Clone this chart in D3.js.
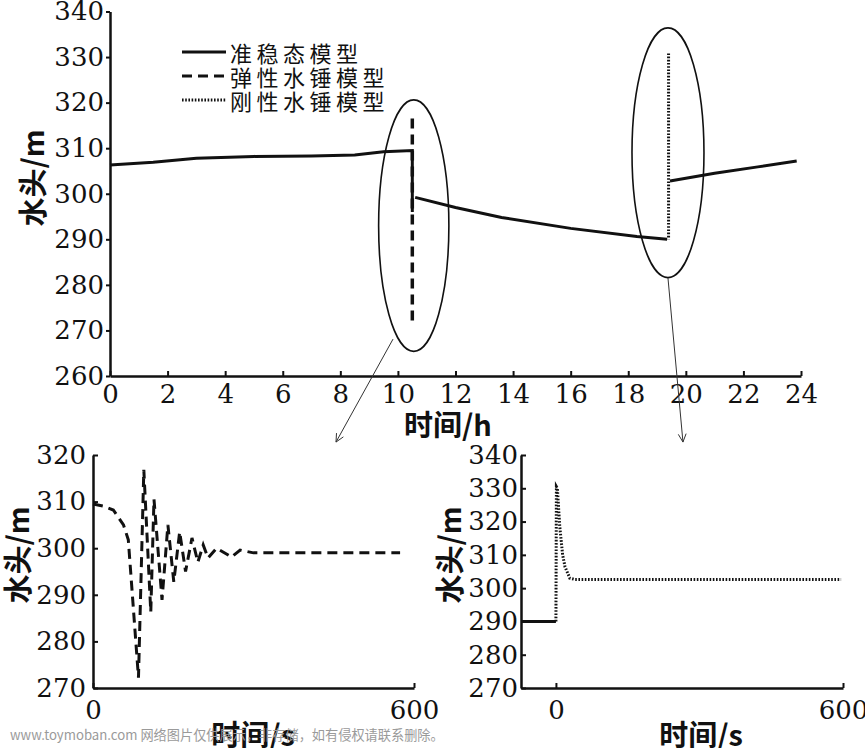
<!DOCTYPE html>
<html>
<head>
<meta charset="utf-8">
<script src="https://cdn.jsdelivr.net/npm/d3@7"></script>
<style>
  body { margin: 0; background: #fff; }
  svg { display: block; }
  .cn { font-family: "Noto Sans CJK SC", sans-serif; fill: #111; }
</style>
</head>
<body>
<svg id="chart" width="865" height="748"></svg>
<script>
// ---- data (top: 24 h overview) ----
const hourTicks = [0, 2, 4, 6, 8, 10, 12, 14, 16, 18, 20, 22, 24];
const headTicksTop = [260, 270, 280, 290, 300, 310, 320, 330, 340];
const quasiSteady1 = [[0, 306.3], [1.5, 306.9], [3, 307.8], [5, 308.2], [7, 308.3], [8.5, 308.5], [9.5, 309.2], [10.5, 309.5], [10.5, 296]];
const quasiSteady2 = [[10.6, 299.2], [12, 297], [13.6, 294.8], [16, 292.4], [18.3, 290.6], [19.35, 290]];
const quasiSteady3 = [[19.45, 302.8], [21, 304.5], [22.5, 305.9], [23.85, 307.2]];
const elasticTop = [[10.5, 316.5], [10.5, 271]];
const rigidTop = [[19.4, 330.8], [19.4, 290]];
// ellipses: [centre h, centre m, radius h, radius m]
const ellipses = [[10.55, 293, 1.22, 27.6], [19.38, 309, 1.25, 27.4]];
// arrows: [from h, from m, to h, to m]
const arrows = [[9.83, 268.1, 7.85, 245.5], [19.38, 281.5, 19.9, 245.5]];
const legendNames = ["准稳态模型", "弹性水锤模型", "刚性水锤模型"];

// ---- data (bottom-left: elastic model, seconds) ----
const secTicksL = [0, 600];
const headTicksL = [270, 280, 290, 300, 310, 320];
const elasticDetail = [[0, 309.5], [20, 309], [38, 308.2], [57, 305], [66, 301.8], [85, 272.2], [95, 316.8],
  [108, 286.3], [114, 310.5], [129, 288.9], [140, 305], [151, 292.8], [162, 303.5], [173, 295],
  [185, 302.2], [196, 297], [206, 300.7], [215, 297.9], [231, 300], [259, 298.1], [275, 299.6],
  [300, 299], [574, 299]];

// ---- data (bottom-right: rigid model, seconds) ----
const secTicksR = [0, 600];
const headTicksR = [270, 280, 290, 300, 310, 320, 330, 340];
const steadyBefore = [[-73, 290], [0, 290]];
const rigidDetail = [[0, 290], [1, 330.5], [3, 330], [8, 318.5], [14, 310], [19, 306.4], [29, 303], [40, 302.6], [596, 302.6]];

const svg = d3.select("#chart");
const ink = "#111";

function styleAxis(g) {
    g.attr("font-family", null).attr("font-size", null);
    g.select(".domain").attr("stroke", ink).attr("stroke-width", 2.5);
    g.selectAll(".tick line").attr("stroke", ink).attr("stroke-width", 2);
    g.selectAll(".tick text")
        .style("font-family", "'DejaVu Serif'")
        .style("font-size", "26px")
        .attr("fill", ink);
}

function drawLine(data, x, y, dash, w) {
    svg.append("path")
        .datum(data)
        .attr("fill", "none")
        .attr("stroke", ink)
        .attr("stroke-width", w || 3)
        .attr("stroke-dasharray", dash || null)
        .attr("d", d3.line().x(d => x(d[0])).y(d => y(d[1])));
}

const DASH = "10,6";
const DOT = "1.6,1.6";

// ===== top chart =====
const xTop = d3.scaleLinear().domain([0, 24]).range([110, 801]);
const yTop = d3.scaleLinear().domain([260, 340]).range([376, 11.5]);

svg.append("g").attr("transform", "translate(0,376)")
    .call(d3.axisBottom(xTop).tickValues(hourTicks).tickSize(-5).tickSizeOuter(0).tickPadding(9))
    .call(styleAxis);
svg.append("g").attr("transform", "translate(110,0)")
    .call(d3.axisLeft(yTop).tickValues(headTicksTop).tickSize(4).tickSizeOuter(0).tickPadding(2))
    .call(styleAxis);

drawLine(quasiSteady1, xTop, yTop);
drawLine(quasiSteady2, xTop, yTop);
drawLine(quasiSteady3, xTop, yTop);
drawLine(elasticTop, xTop, yTop, DASH, 3.5);
drawLine(rigidTop, xTop, yTop, DOT, 3);

ellipses.forEach(e => {
    svg.append("ellipse")
        .attr("cx", xTop(e[0])).attr("cy", yTop(e[1]))
        .attr("rx", xTop(e[0] + e[2]) - xTop(e[0]))
        .attr("ry", yTop(e[1] - e[3]) - yTop(e[1]))
        .attr("fill", "none").attr("stroke", ink).attr("stroke-width", 1.6);
});

arrows.forEach(a => {
    const x1 = xTop(a[0]), y1 = yTop(a[1]), x2 = xTop(a[2]), y2 = yTop(a[3]);
    svg.append("line").attr("x1", x1).attr("y1", y1).attr("x2", x2).attr("y2", y2)
        .attr("stroke", "#333").attr("stroke-width", 1);
    const ang = Math.atan2(y2 - y1, x2 - x1);
    [-0.45, 0.45].forEach(o => {
        svg.append("line").attr("x1", x2).attr("y1", y2)
            .attr("x2", x2 - 9 * Math.cos(ang + o)).attr("y2", y2 - 9 * Math.sin(ang + o))
            .attr("stroke", "#333").attr("stroke-width", 1);
    });
});

// legend
const legDash = [null, DASH, DOT];
legendNames.forEach((n, i) => {
    const yy = 52 + i * 24;
    svg.append("line").attr("x1", 182).attr("x2", 226).attr("y1", yy).attr("y2", yy)
        .attr("stroke", ink).attr("stroke-width", 3).attr("stroke-dasharray", legDash[i]);
    svg.append("text").attr("class", "cn").attr("x", 230).attr("y", yy)
        .attr("dominant-baseline", "central").attr("font-size", 22)
        .attr("letter-spacing", 4.5).text(n);
});

// axis titles
function title(x, y, txt, rot) {
    svg.append("text").attr("class", "cn")
        .attr("transform", `translate(${x},${y})` + (rot ? " rotate(-90)" : ""))
        .attr("text-anchor", "middle").attr("dominant-baseline", "central")
        .attr("font-size", 29).attr("font-weight", "bold").text(txt);
}
title(448, 423, "时间/h");
title(31, 178, "水头/m", true);

// ===== bottom-left chart =====
const xL = d3.scaleLinear().domain([0, 600]).range([93, 414]);
const yL = d3.scaleLinear().domain([270, 320]).range([688, 455]);
svg.append("g").attr("transform", "translate(0,688)")
    .call(d3.axisBottom(xL).tickValues(secTicksL).tickSize(-5).tickSizeOuter(0).tickPadding(13))
    .call(styleAxis);
svg.append("g").attr("transform", "translate(93,0)")
    .call(d3.axisLeft(yL).tickValues(headTicksL).tickSize(-5).tickSizeOuter(0).tickPadding(7))
    .call(styleAxis);
drawLine(elasticDetail, xL, yL, DASH, 3);
title(253, 733, "时间/s");
title(16, 555, "水头/m", true);

// ===== bottom-right chart =====
const xR = d3.scaleLinear().domain([-73, 600]).range([521, 843]);
const yR = d3.scaleLinear().domain([270, 340]).range([688, 455]);
svg.append("g").attr("transform", "translate(0,688)")
    .call(d3.axisBottom(xR).tickValues(secTicksR).tickSize(-5).tickSizeOuter(0).tickPadding(13))
    .call(styleAxis);
svg.append("g").attr("transform", "translate(521,0)")
    .call(d3.axisLeft(yR).tickValues(headTicksR).tickSize(-5).tickSizeOuter(0).tickPadding(3))
    .call(styleAxis);
drawLine(steadyBefore, xR, yR);
drawLine(rigidDetail, xR, yR, DOT, 3);
title(701, 733, "时间/s");
title(448, 555, "水头/m", true);

// watermark
svg.append("text").attr("class", "cn").attr("x", 10).attr("y", 740)
    .attr("font-size", 13.2).style("fill", "#9a9a9a")
    .text("www.toymoban.com 网络图片仅供展示，非存储，如有侵权请联系删除。");
</script>
</body>
</html>
